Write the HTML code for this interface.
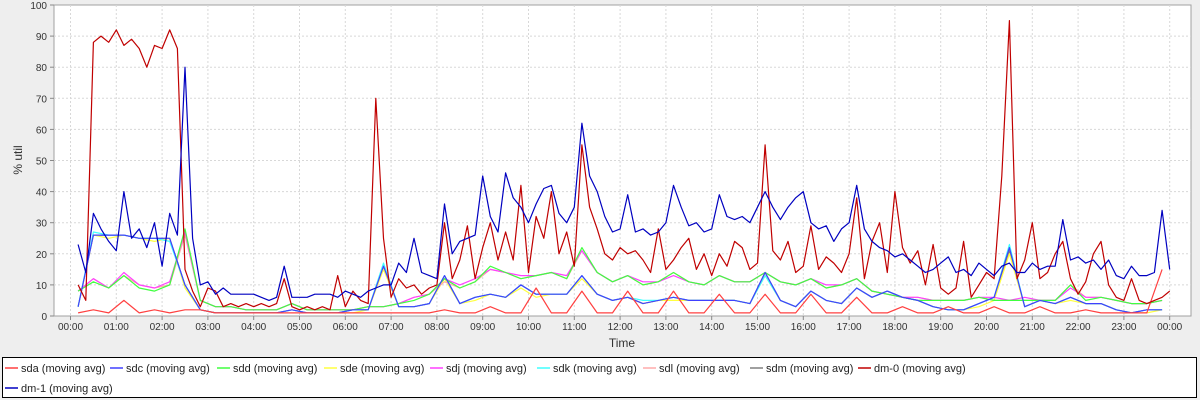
<!DOCTYPE html>
<html><head><meta charset="utf-8"><style>
body{margin:0;background:#eeeeee;width:1200px;height:400px;overflow:hidden;font-family:"Liberation Sans","DejaVu Sans",sans-serif}
svg{display:block}
</style></head><body>
<svg id="chart" width="1200" height="400" xmlns="http://www.w3.org/2000/svg">
<rect x="0" y="0" width="1200" height="400" fill="#eeeeee"/>
<rect x="54" y="5" width="1137" height="311" fill="#ffffff" stroke="#a0a0a0"/>
<g id="grid"></g>
<g id="axes"></g>
<g id="series"></g>
<text x="622" y="347" font-size="12" text-anchor="middle" fill="#333">Time</text>
<text transform="translate(22,160) rotate(-90)" font-size="12" text-anchor="middle" fill="#333">% util</text>
<rect x="2.5" y="357.5" width="1194" height="40" fill="#ffffff" stroke="#000"/>
<g id="legend"></g>
</svg>
<script>
// time grid: fine series start at 0:10, step 10 min; coarse series start 0:10, step 20 min
const yTicks=[0,10,20,30,40,50,60,70,80,90,100];
const xTickLabels=["00:00","01:00","02:00","03:00","04:00","05:00","06:00","07:00","08:00","09:00","10:00","11:00","12:00","13:00","14:00","15:00","16:00","17:00","18:00","19:00","20:00","21:00","22:00","23:00","00:00"];
const seriesNames=["sda","sdc","sdd","sde","sdj","sdk","sdl","sdm","dm-0","dm-1"];
const dm0=[10,5,88,90,88,92, 87,89,86,80,87,86, 92,86,15,8,3,9, 8,3,4,3,4,3, 4,3,4,12,3,2, 3,2,3,2,13,3, 8,5,4,70,25,6, 12,9,10,7,9,10, 30,12,18,29,12,22, 30,18,27,18,42,14, 32,25,40,20,27,16, 55,35,28,20,18,22, 20,21,18,14,28,15, 18,22,25,15,20,13, 20,16,24,22,15,17, 55,21,18,24,14,16, 29,15,19,17,14,20, 38,12,24,30,14,40, 22,17,21,10,23,9, 7,9,24,6,10,14, 12,45,95,12,18,30, 12,14,20,24,12,7, 11,20,24,10,6,5, 12,5,4,5,6,8];
const dm1=[23,14,33,28,24,21, 40,25,28,22,30,16, 33,26,80,25,10,11, 7,9,7,7,7,7, 6,5,6,16,6,6, 6,7,7,7,6,8, 7,6,8,9,10,10, 17,14,25,14,13,12, 36,20,24,25,26,45, 32,27,46,38,35,30, 36,41,42,33,30,35, 62,45,40,32,27,28, 39,27,28,26,27,30, 42,35,29,30,27,28, 39,32,31,32,30,35, 40,35,31,35,38,40, 30,28,29,24,28,30, 42,28,24,22,21,19, 20,18,16,14,15,17, 19,14,15,13,17,15, 13,16,17,14,14,17, 15,16,16,31,18,19, 17,18,15,18,13,12, 16,13,13,14,34,15];
const sdc=[3,26,26,26,25,25,25,10,2,1,1,1,1,1,2,1,1,1,2,2,16,3,3,4,13,4,6,7,6,10,7,7,7,13,7,5,6,4,5,6,5,5,5,5,4,14,5,3,8,5,4,9,6,8,6,5,3,2,2,4,6,22,3,5,4,6,4,4,2,1,2,2];
const sdd=[8,11,9,13,9,8,10,28,5,3,3,2,2,2,4,2,2,2,2,3,3,4,5,7,12,9,11,16,14,12,13,14,12,22,14,11,13,10,11,14,11,10,13,11,11,14,11,10,12,9,10,12,8,7,6,5,5,5,5,6,5,5,5,5,5,10,5,6,5,4,4,5];
const sda=[1,2,1,5,1,2,1,2,2,1,1,1,1,1,1,1,1,1,1,1,1,1,1,1,2,1,1,3,1,1,9,1,1,8,1,1,8,1,1,8,1,1,7,1,1,7,1,1,7,1,1,6,1,1,3,1,1,3,1,1,3,1,1,3,1,1,2,1,1,1,1,15];
const sde=[3,26,25,26,25,24,25,9,2,1,1,1,1,1,2,1,1,1,1,2,15,3,3,4,12,4,5,7,6,9,6,7,7,12,7,5,6,4,5,5,5,5,5,5,4,13,5,3,8,5,4,9,6,8,6,5,3,2,2,3,5,20,3,5,4,5,4,4,2,1,1,2];
const sdj=[8,12,9,14,10,9,11,27,5,3,3,2,2,2,4,2,2,2,2,3,3,4,6,7,12,10,12,15,14,13,13,14,13,21,14,11,13,11,11,13,11,10,13,11,11,14,11,10,12,10,10,12,8,7,6,6,5,5,5,6,6,5,6,5,5,9,6,6,5,4,4,5];
const sdk=[3,27,26,26,25,25,24,10,2,1,1,1,1,1,2,1,1,1,2,2,17,3,3,4,13,4,6,7,6,10,7,7,7,13,7,5,6,5,5,6,5,5,5,5,4,13,5,3,8,5,4,9,6,8,6,5,3,2,2,4,6,23,3,5,4,6,4,4,2,1,2,2];
const sdl=[8,12,9,13,10,9,10,26,5,3,3,2,2,2,4,2,2,2,2,3,3,4,6,7,11,9,11,15,14,12,13,14,12,21,14,11,13,10,11,14,11,10,13,11,11,14,11,10,12,9,10,12,8,7,6,6,5,5,5,6,5,5,5,5,5,10,6,6,5,4,4,5];
const sdm=[3,26,26,26,25,25,25,10,2,1,1,1,1,1,2,1,1,1,2,2,16,3,3,4,13,4,6,7,6,10,7,7,7,13,7,5,6,4,5,6,5,5,5,5,4,14,5,3,8,5,4,9,6,8,6,5,3,2,2,4,6,21,3,5,4,6,4,4,2,1,2,2];

const NS="http://www.w3.org/2000/svg";
const X0=70.5, PXH=45.8, Y0=316, YT=5;
function xs(h){return X0+h*PXH;}
function ys(v){return Y0-(v/100)*(Y0-YT);}
function mk(tag,parent){const e=document.createElementNS(NS,tag);parent.appendChild(e);return e;}
const grid=document.getElementById('grid'),axes=document.getElementById('axes'),sg=document.getElementById('series'),lg=document.getElementById('legend');
yTicks.forEach(v=>{
  const y=ys(v);
  if(v>0&&v<100){const l=mk('line',grid);l.setAttribute('x1',54);l.setAttribute('x2',1191);l.setAttribute('y1',y);l.setAttribute('y2',y);l.setAttribute('stroke','#d8d8d8');l.setAttribute('stroke-dasharray','2,2');
  
  }
  const t=mk('line',axes);t.setAttribute('x1',50);t.setAttribute('x2',54);t.setAttribute('y1',y);t.setAttribute('y2',y);t.setAttribute('stroke','#888');
  
  
  const tx=mk('text',axes);tx.setAttribute('x',47);tx.setAttribute('y',y+4);tx.setAttribute('text-anchor','end');tx.setAttribute('font-size','10');tx.setAttribute('fill','#333');tx.textContent=v;
  
  
});
xTickLabels.forEach((s,i)=>{
  const x=xs(i);
  const l=mk('line',grid);l.setAttribute('x1',x);l.setAttribute('x2',x);l.setAttribute('y1',5);l.setAttribute('y2',316);l.setAttribute('stroke','#d8d8d8');l.setAttribute('stroke-dasharray','2,2');
  
  
  const t=mk('line',axes);t.setAttribute('x1',x);t.setAttribute('x2',x);t.setAttribute('y1',316);t.setAttribute('y2',320);t.setAttribute('stroke','#888');
  
  
  const tx=mk('text',axes);tx.setAttribute('x',x);tx.setAttribute('y',330);tx.setAttribute('text-anchor','middle');tx.setAttribute('font-size','10');tx.setAttribute('fill','#333');tx.textContent=s;
  
  
});
function drawSeries(arr,stepMin,color,name){
  const pts=arr.map((v,i)=>xs((10+i*stepMin)/60).toFixed(1)+','+ys(v).toFixed(1)).join(' ');
  const p=mk('polyline',sg);p.setAttribute('points',pts);p.setAttribute('fill','none');p.setAttribute('stroke',color);p.setAttribute('stroke-width','1.2');p.setAttribute('stroke-linejoin','round');
  
  
}
drawSeries(sdm,20,'#808080','sdm');
drawSeries(sde,20,'#ffff40','sde');
drawSeries(sdk,20,'#40ffff','sdk');
drawSeries(sdl,20,'#ffaaaa','sdl');
drawSeries(sdj,20,'#ff40ff','sdj');
drawSeries(sdd,20,'#40ff40','sdd');
drawSeries(sdc,20,'#4040ff','sdc');
drawSeries(sda,20,'#ff4040','sda');
drawSeries(dm0,10,'#c00000','dm-0');
drawSeries(dm1,10,'#0000c0','dm-1');
const legendColors=['#ff4040','#4040ff','#40ff40','#ffff40','#ff40ff','#40ffff','#ffaaaa','#808080','#c00000','#0000c0'];
const legendX=[5,110,217,324,430,537,643,750,858,5];
const legendY=[368,368,368,368,368,368,368,368,368,388];
seriesNames.forEach((n,i)=>{
  const g=mk('g',lg);
  
  
  const l=mk('line',g);l.setAttribute('x1',legendX[i]);l.setAttribute('x2',legendX[i]+13);l.setAttribute('y1',legendY[i]);l.setAttribute('y2',legendY[i]);l.setAttribute('stroke',legendColors[i]);l.setAttribute('stroke-width','1.5');
  
  
  const t=mk('text',g);t.setAttribute('x',legendX[i]+16);t.setAttribute('y',legendY[i]+4);t.setAttribute('font-size','11');t.setAttribute('fill','#222');t.textContent=n+' (moving avg)';
  
  
});
</script>
</body></html>
